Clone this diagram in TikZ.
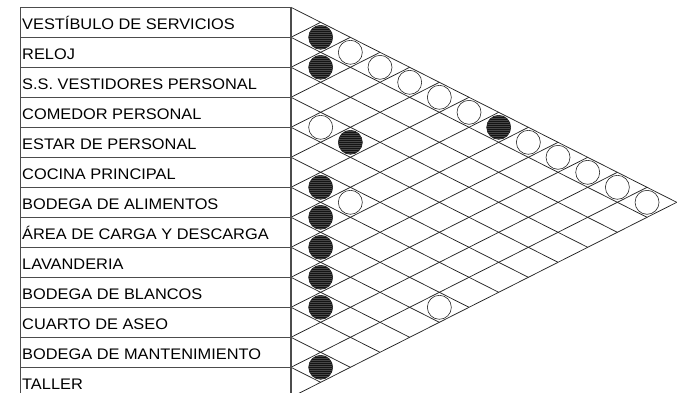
\documentclass[tikz,border=0pt]{standalone}
\usepackage{fontspec}
\newfontfamily\labfont[FakeStretch=1.07]{Liberation Sans}
\begin{document}
\begin{tikzpicture}[x=1pt,y=-1pt,
  lab/.style={anchor=base west,inner sep=0pt,font=\labfont\fontsize{15.3}{16}\selectfont},
  grid/.style={line width=0.75pt,black!85},
  rowline/.style={line width=0.8pt,black!70},
  divider/.style={line width=1.3pt,black!70},
  open/.style={circle,draw=black!85,line width=0.6pt,fill=white,minimum size=24pt,inner sep=0pt},
  full/.style={circle,draw=black!85,line width=0.6pt,fill=black!92,minimum size=24pt,inner sep=0pt,
    path picture={\foreach \k in {-11,-9,...,11}
      \draw[black!72,line width=0.35pt] ([yshift=\k pt]path picture bounding box.west) -- ++(26pt,0);}}]
\useasboundingbox (0,0) rectangle (677,392);
\def\tp{7.3}\def\hh{30}\def\aa{29.67}\def\vx{291}
% table
\draw[rowline] (20.7,\tp) rectangle (\vx,{\tp+13*\hh});
\foreach \k in {1,...,12}
  \draw[rowline] (20.7,{\tp+\k*\hh}) -- (\vx,{\tp+\k*\hh});
% diagonal grid
\foreach \k in {0,...,13}{
  \draw[grid] (\vx,{\tp+\k*\hh}) -- ({\vx+(13-\k)*\aa},{\tp+\k*\hh+(13-\k)*\hh/2});
  \draw[grid] (\vx,{\tp+\k*\hh}) -- ({\vx+\k*\aa},{\tp+\k*\hh-\k*\hh/2});
}
\draw[divider] (\vx,\tp) -- (\vx,{\tp+13*\hh});
% labels
\foreach \t [count=\i from 0] in {VESTÍBULO DE SERVICIOS,RELOJ,S.S. VESTIDORES PERSONAL,COMEDOR PERSONAL,ESTAR DE PERSONAL,COCINA PRINCIPAL,BODEGA DE ALIMENTOS,ÁREA DE CARGA Y DESCARGA,LAVANDERIA,BODEGA DE BLANCOS,CUARTO DE ASEO,BODEGA DE MANTENIMIENTO,TALLER}
  \node[lab] (r\i) at (22,{\tp+(\i+1)*\hh-8}) {\t};
% relations
\foreach \i/\j/\s in {0/1/full,0/2/open,0/3/open,0/4/open,0/5/open,0/6/open,0/7/full,0/8/open,0/9/open,0/10/open,0/11/open,0/12/open,
  1/2/full,3/4/open,3/5/full,5/6/full,5/7/open,6/7/full,7/8/full,8/9/full,9/10/full,7/12/open,11/12/full}
  \node[\s] (c\i-\j) at ({\vx+(\j-\i)*\aa},{\tp+(\i+\j+1)*\hh/2}) {};
\end{tikzpicture}
\end{document}
